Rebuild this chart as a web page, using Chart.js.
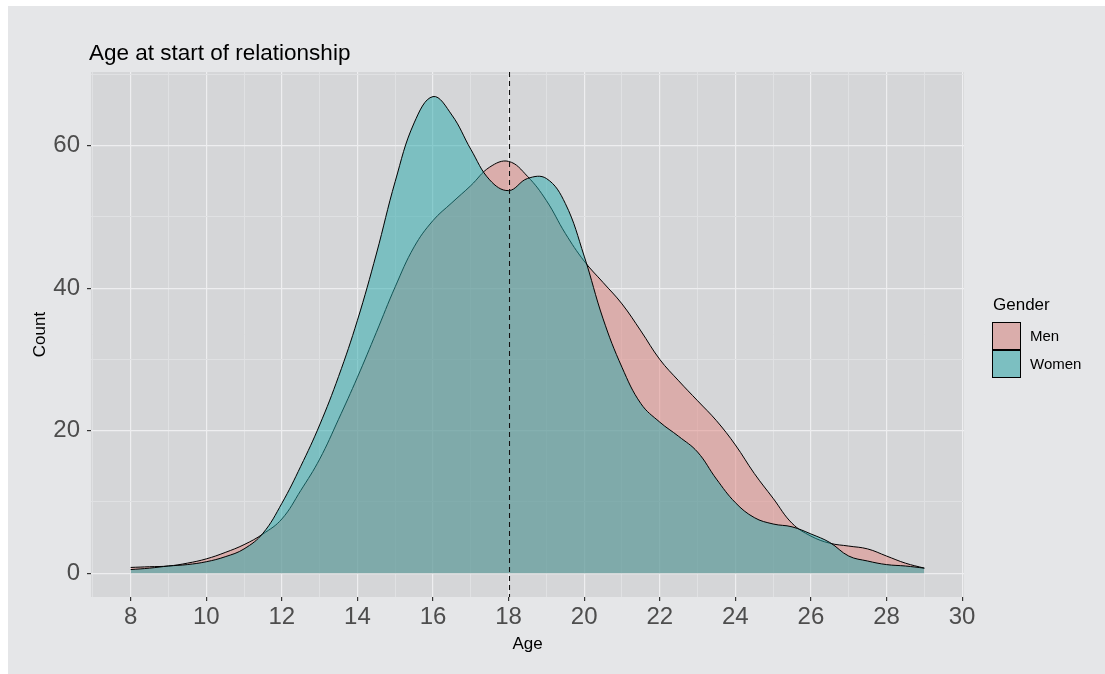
<!DOCTYPE html>
<html>
<head>
<meta charset="utf-8">
<script src="https://cdn.jsdelivr.net/npm/chart.js@4.4.1/dist/chart.umd.min.js"></script>
<style>
  html, body { margin: 0; padding: 0; background: #ffffff; width: 1105px; height: 674px; overflow: hidden; }
  #c { position: absolute; left: 8px; top: 6px; }
</style>
</head>
<body>
<canvas id="c" width="1097" height="668"></canvas>
<script>
// ---- data ----
const ages = [8, 8.5, 9, 9.5, 10, 10.5, 11, 11.5, 12, 12.5, 13, 13.5, 14, 14.5, 15, 15.5, 16, 16.5, 17, 17.5, 18, 18.5, 19, 19.5, 20, 20.5, 21, 21.5, 22, 22.5, 23, 23.5, 24, 24.5, 25, 25.5, 26, 26.5, 27, 27.5, 28, 28.5, 29];
const menCounts = [0.8, 0.9, 1.0, 1.4, 2.0, 2.9, 4.0, 5.5, 7.6, 11.6, 16.0, 21.6, 27.5, 33.8, 40.2, 45.8, 49.5, 52.0, 54.4, 57.0, 57.8, 55.7, 52.3, 47.7, 43.8, 40.8, 37.8, 34.0, 30.0, 27.0, 24.2, 21.4, 18.0, 14.0, 10.5, 7.0, 5.2, 4.2, 3.8, 3.4, 2.4, 1.4, 0.7];
const womenCounts = [0.5, 0.7, 1.0, 1.2, 1.6, 2.3, 3.4, 5.6, 9.8, 15.0, 20.8, 27.6, 35.5, 44.8, 55.0, 63.2, 66.9, 64.3, 59.5, 55.2, 53.7, 55.4, 55.4, 51.9, 44.5, 35.7, 28.9, 23.8, 21.2, 19.2, 17.0, 13.2, 9.9, 7.8, 6.9, 6.5, 5.5, 4.3, 2.4, 1.7, 1.2, 1.0, 0.7];
const xTickLabels = [8, 10, 12, 14, 16, 18, 20, 22, 24, 26, 28, 30];
const yTickLabels = [0, 20, 40, 60];
const refAge = 18;
const seriesNames = ['Men', 'Women'];
const legendTitle = 'Gender';
const chartTitle = 'Age at start of relationship';
const xTitle = 'Age';
const yTitle = 'Count';

// ---- styling ----
const OUTER_BG = '#e5e6e8';
const PANEL_BG = '#d5d6d8';
const GRID_MAJOR = '#eeeef0';
const GRID_MINOR = '#e0e1e3';
const MEN_FILL = 'rgba(224,131,125,0.5)';
const WOMEN_FILL = 'rgba(36,168,170,0.5)';
const FONT = '"Liberation Sans", Arial, sans-serif';

const xMin = 6.95, xMax = 30.05, yMin = -3.35, yMax = 70.35;
const xGridVals = [];
for (let v = Math.ceil(xMin); v <= xMax; v++) xGridVals.push(v);
const yGridVals = [];
for (let v = 0; v <= yMax; v += 10) yGridVals.push(v);

const toPts = arr => arr.map((y, i) => ({ x: ages[i], y }));

const bgPlugin = {
  id: 'bg',
  beforeDraw(chart) {
    const { ctx, chartArea: a } = chart;
    ctx.save();
    ctx.fillStyle = OUTER_BG;
    ctx.fillRect(0, 0, chart.width, chart.height);
    ctx.fillStyle = PANEL_BG;
    ctx.fillRect(a.left, a.top, a.right - a.left, a.bottom - a.top);
    ctx.restore();
  }
};

const refLinePlugin = {
  id: 'refLine',
  afterDatasetsDraw(chart) {
    const { ctx, chartArea: a, scales } = chart;
    const x = Math.round(scales.x.getPixelForValue(refAge)) + 0.5;
    ctx.save();
    ctx.strokeStyle = '#111';
    ctx.lineWidth = 1.1;
    ctx.setLineDash([5, 4]);
    ctx.beginPath();
    ctx.moveTo(x, a.top);
    ctx.lineTo(x, a.bottom);
    ctx.stroke();
    ctx.restore();
  }
};

const annotPlugin = {
  id: 'annot',
  afterDraw(chart) {
    const { ctx } = chart;
    ctx.save();
    // title
    ctx.fillStyle = '#000';
    ctx.font = '22.5px ' + FONT;
    ctx.textAlign = 'left';
    ctx.textBaseline = 'alphabetic';
    ctx.fillText(chartTitle, 81, 54);
    // legend
    ctx.font = '17px ' + FONT;
    ctx.fillText(legendTitle, 985, 304);
    const fills = [MEN_FILL, WOMEN_FILL];
    const boxTop = [316, 344];
    for (let i = 0; i < 2; i++) {
      ctx.fillStyle = PANEL_BG;
      ctx.fillRect(984, boxTop[i], 29, 28);
      ctx.fillStyle = fills[i];
      ctx.fillRect(984, boxTop[i], 29, 28);
      ctx.strokeStyle = '#000';
      ctx.lineWidth = 1;
      ctx.strokeRect(984.5, boxTop[i] + 0.5, 28, 27);
      ctx.fillStyle = '#000';
      ctx.font = '15px ' + FONT;
      ctx.textBaseline = 'middle';
      ctx.fillText(seriesNames[i], 1022, boxTop[i] + 15);
    }
    ctx.restore();
  }
};

new Chart(document.getElementById('c'), {
  type: 'line',
  data: {
    datasets: [
      { label: seriesNames[0], data: toPts(menCounts), order: 1,
        fill: 'origin', backgroundColor: MEN_FILL, borderColor: '#000', borderWidth: 1,
        pointRadius: 0, tension: 0.4 },
      { label: seriesNames[1], data: toPts(womenCounts), order: 0,
        fill: 'origin', backgroundColor: WOMEN_FILL, borderColor: '#000', borderWidth: 1,
        pointRadius: 0, tension: 0.4 }
    ]
  },
  options: {
    responsive: false,
    animation: false,
    devicePixelRatio: 1,
    layout: { padding: { left: 0, right: 141, top: 66, bottom: 0 } },
    plugins: { legend: { display: false }, tooltip: { enabled: false }, title: { display: false } },
    scales: {
      x: {
        type: 'linear', min: xMin, max: xMax,
        afterBuildTicks(scale) { scale.ticks = xGridVals.map(v => ({ value: v })); },
        afterFit(scale) { scale.height = 77; },
        border: { display: false },
        grid: {
          color: c => (xTickLabels.includes(c.tick.value) ? GRID_MAJOR : GRID_MINOR),
          lineWidth: c => (xTickLabels.includes(c.tick.value) ? 1.2 : 1),
          tickColor: c => (xTickLabels.includes(c.tick.value) ? '#333333' : 'rgba(0,0,0,0)'),
          tickLength: 4, drawTicks: true
        },
        ticks: {
          autoSkip: false, maxRotation: 0, minRotation: 0, padding: 2,
          color: '#4d4d4d', font: { family: FONT, size: 24 },
          callback: v => (xTickLabels.includes(v) ? String(v) : '')
        },
        title: { display: true, text: xTitle, color: '#000', font: { family: FONT, size: 17 }, padding: { top: 0, bottom: 19 } }
      },
      y: {
        type: 'linear', min: yMin, max: yMax,
        afterBuildTicks(scale) { scale.ticks = yGridVals.map(v => ({ value: v })); },
        afterFit(scale) { scale.width = 83; },
        border: { display: false },
        grid: {
          color: c => (yTickLabels.includes(c.tick.value) ? GRID_MAJOR : GRID_MINOR),
          lineWidth: c => (yTickLabels.includes(c.tick.value) ? 1.2 : 1),
          tickColor: c => (yTickLabels.includes(c.tick.value) ? '#333333' : 'rgba(0,0,0,0)'),
          tickLength: 4, drawTicks: true
        },
        ticks: {
          autoSkip: false, padding: 7,
          color: '#4d4d4d', font: { family: FONT, size: 24 },
          callback: v => (yTickLabels.includes(v) ? String(v) : '')
        },
        title: { display: true, text: yTitle, color: '#000', font: { family: FONT, size: 17 }, padding: { top: 22, bottom: 0 } }
      }
    }
  },
  plugins: [bgPlugin, refLinePlugin, annotPlugin]
});
</script>
</body>
</html>
